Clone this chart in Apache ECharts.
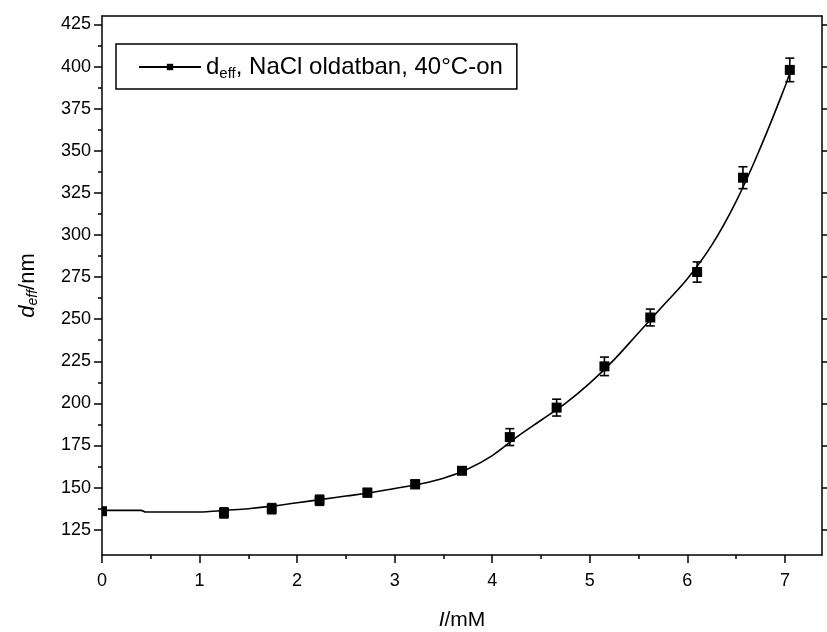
<!DOCTYPE html>
<html>
<head>
<meta charset="utf-8">
<script src="https://cdn.jsdelivr.net/npm/echarts@6/dist/echarts.min.js"></script>
<style>
html,body{margin:0;padding:0;background:#fff;}
#chart{width:827px;height:632px;}
</style>
</head>
<body>
<div id="chart"></div>
<script>
// ---- data ----
const pointX = [0, 1.25, 1.74, 2.23, 2.72, 3.21, 3.69, 4.18, 4.66, 5.15, 5.62, 6.10, 6.57, 7.05];
const pointY = [136, 135, 137.5, 142.5, 147, 152, 160, 180, 197.5, 222, 251, 278, 334, 398];
const errY   = [2, 3, 3, 3, 2.5, 2.5, 2, 5, 5, 5.5, 5, 6, 6.5, 7];
const fitX = [0, 0.4, 0.45, 1.0, 1.1, 1.25, 1.5, 1.75, 2.0, 2.25, 2.5, 2.75, 3.0, 3.25, 3.5, 3.75, 4.0, 4.25, 4.5, 4.75, 5.0, 5.25, 5.5, 5.75, 6.0, 6.25, 6.5, 6.75, 7.0, 7.06];
const fitY = [136.5, 136.5, 135.5, 135.5, 135.8, 136.5, 137.5, 139, 141, 143, 145, 147, 149.5, 152, 155.5, 161, 169, 180, 190, 200, 212, 226, 242, 258, 274, 294, 320, 352, 388, 398];
const xMajorTicks = [0, 1, 2, 3, 4, 5, 6, 7];
const xMinorTicks = [0.5, 1.5, 2.5, 3.5, 4.5, 5.5, 6.5];
const yMajorTicks = [125, 150, 175, 200, 225, 250, 275, 300, 325, 350, 375, 400, 425];
const yMinorTicks = [137.5, 162.5, 187.5, 212.5, 237.5, 262.5, 287.5, 312.5, 337.5, 362.5, 387.5, 412.5];
const legendName = 'd_eff, NaCl oldatban, 40°C-on';

const X_MIN = 0, X_MAX = 7.38, Y_MIN = 110, Y_MAX = 430;
const FONT = 'Liberation Sans, Arial, sans-serif';

const chart = echarts.init(document.getElementById('chart'), null, {renderer: 'canvas'});

const gridPos = {left: 102, right: 5, top: 16, bottom: 77, containLabel: false, outerBoundsMode: 'none'};

const pointData = pointX.map((x, i) => [x, pointY[i], errY[i]]);
const fitData = fitX.map((x, i) => [x, fitY[i]]);

const option = {
  backgroundColor: '#fff',
  animation: false,
  grid: [
    Object.assign({}, gridPos),
    Object.assign({}, gridPos)
  ],
  legend: {
    data: [legendName],
    left: 116, top: 44,
    orient: 'horizontal',
    borderColor: '#000', borderWidth: 1.5,
    padding: [9, 14, 8, 22],
    itemWidth: 62, itemHeight: 8,
    formatter: () => '{a|d}{b|eff}{a|, NaCl oldatban, 40°C-on}',
    textStyle: {
      color: '#000', fontFamily: FONT,
      rich: {
        a: {fontSize: 24, fontFamily: FONT, color: '#000', lineHeight: 29},
        b: {fontSize: 15, fontFamily: FONT, color: '#000', padding: [13, 0, 0, 0], lineHeight: 29}
      }
    }
  },
  xAxis: [
    {
      type: 'value', gridIndex: 0, position: 'bottom', min: X_MIN, max: X_MAX,
      name: '{i|I}{n|/mM}', nameLocation: 'middle', nameGap: 55,
      nameTextStyle: {rich: {
        i: {fontSize: 21, fontStyle: 'italic', fontFamily: FONT, color: '#000'},
        n: {fontSize: 21, fontFamily: FONT, color: '#000'}
      }},
      axisLine: {show: true, onZero: false, lineStyle: {color: '#000', width: 1.5}},
      axisTick: {show: true, inside: false, length: 8, customValues: xMajorTicks, lineStyle: {color: '#000', width: 1.5}},
      axisLabel: {show: true, customValues: xMajorTicks, margin: 17, fontSize: 18, fontFamily: FONT, color: '#000'},
      splitLine: {show: false}
    },
    {
      type: 'value', gridIndex: 0, position: 'top', min: X_MIN, max: X_MAX,
      axisLine: {show: true, onZero: false, lineStyle: {color: '#000', width: 1.5}},
      axisTick: {show: false}, axisLabel: {show: false}, splitLine: {show: false}
    },
    {
      type: 'value', gridIndex: 1, position: 'bottom', min: X_MIN, max: X_MAX,
      axisLine: {show: false, onZero: false},
      axisTick: {show: true, inside: false, length: 4, customValues: xMinorTicks, lineStyle: {color: '#000', width: 1.5}},
      axisLabel: {show: false}, splitLine: {show: false}
    }
  ],
  yAxis: [
    {
      type: 'value', gridIndex: 0, position: 'left', min: Y_MIN, max: Y_MAX,
      name: '{i|d}{s|eff}{n|/nm}', nameLocation: 'middle', nameGap: 62, nameRotate: 90,
      nameTextStyle: {rich: {
        i: {fontSize: 22, fontStyle: 'italic', fontFamily: FONT, color: '#000'},
        s: {fontSize: 14, fontStyle: 'italic', fontFamily: FONT, color: '#000', padding: [11, 0, 0, 0]},
        n: {fontSize: 22, fontFamily: FONT, color: '#000'}
      }},
      axisLine: {show: true, onZero: false, lineStyle: {color: '#000', width: 1.5}},
      axisTick: {show: true, inside: false, length: 8, customValues: yMajorTicks, lineStyle: {color: '#000', width: 1.5}},
      axisLabel: {show: true, customValues: yMajorTicks, margin: 11, fontSize: 18, fontFamily: FONT, color: '#000'},
      splitLine: {show: false}
    },
    {
      type: 'value', gridIndex: 0, position: 'right', min: Y_MIN, max: Y_MAX,
      axisLine: {show: true, onZero: false, lineStyle: {color: '#000', width: 1.5}},
      axisTick: {show: true, inside: false, length: 6, customValues: yMajorTicks, lineStyle: {color: '#000', width: 1.5}},
      axisLabel: {show: false}, splitLine: {show: false}
    },
    {
      type: 'value', gridIndex: 1, position: 'left', min: Y_MIN, max: Y_MAX,
      axisLine: {show: false, onZero: false},
      axisTick: {show: true, inside: false, length: 4, customValues: yMinorTicks, lineStyle: {color: '#000', width: 1.5}},
      axisLabel: {show: false}, splitLine: {show: false}
    }
  ],
  series: [
    {
      name: 'fit', type: 'line', xAxisIndex: 0, yAxisIndex: 0,
      data: fitData, smooth: 0.4, symbol: 'none', clip: true,
      lineStyle: {color: '#000', width: 1.6}, z: 2
    },
    {
      name: 'points', type: 'custom', xAxisIndex: 0, yAxisIndex: 0,
      data: pointData, clip: true, z: 3,
      renderItem: function (params, api) {
        const x = api.value(0), y = api.value(1), e = api.value(2);
        const c = api.coord([x, y]);
        const top = api.coord([x, y + e]);
        const bot = api.coord([x, y - e]);
        const hw = 4.5, s = 10;
        const st = {stroke: '#000', lineWidth: 1.6, fill: null};
        return {
          type: 'group',
          children: [
            {type: 'line', shape: {x1: top[0], y1: top[1], x2: bot[0], y2: bot[1]}, style: st},
            {type: 'line', shape: {x1: top[0] - hw, y1: top[1], x2: top[0] + hw, y2: top[1]}, style: st},
            {type: 'line', shape: {x1: bot[0] - hw, y1: bot[1], x2: bot[0] + hw, y2: bot[1]}, style: st},
            {type: 'rect', shape: {x: c[0] - s / 2, y: c[1] - s / 2, width: s, height: s}, style: {fill: '#000'}}
          ]
        };
      }
    },
    {
      name: legendName, type: 'line', xAxisIndex: 0, yAxisIndex: 0,
      data: [], symbol: 'rect', symbolSize: 8, showSymbol: true,
      lineStyle: {color: '#000', width: 1.5}, itemStyle: {color: '#000'}
    }
  ]
};
chart.setOption(option);
</script>
</body>
</html>
